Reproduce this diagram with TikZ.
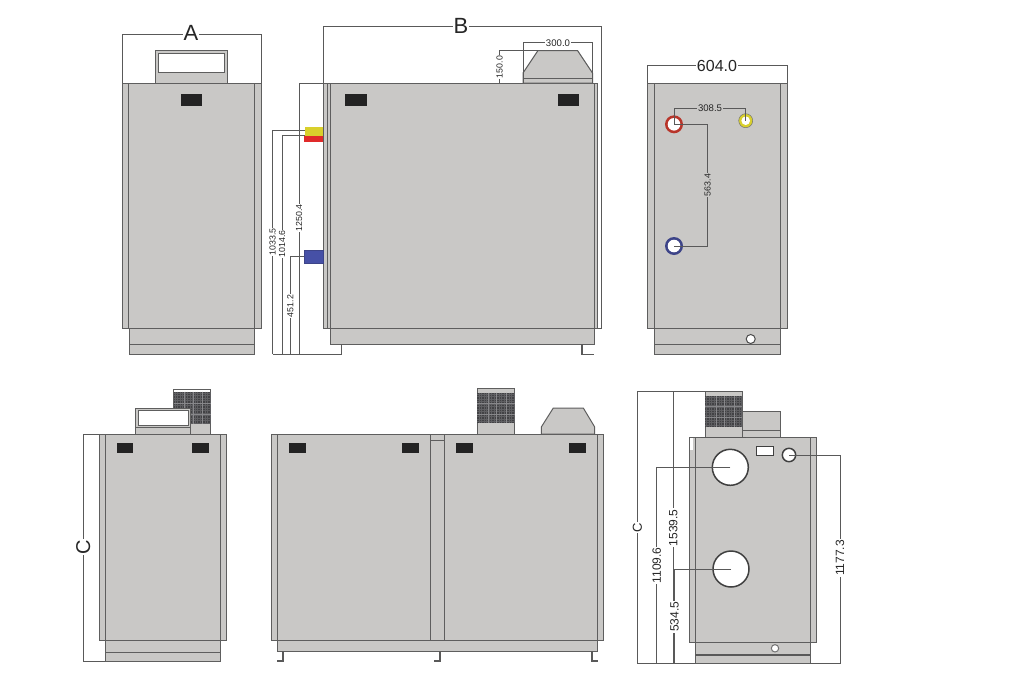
\documentclass[tikz,border=0pt]{standalone}
\usepackage{fontspec}
\setmainfont{Liberation Sans}
\definecolor{bodygray}{HTML}{C9C8C6}
\definecolor{edgegray}{HTML}{5E5E5E}
\definecolor{blk}{HTML}{232323}
\definecolor{grill}{HTML}{424245}
\definecolor{grillb}{HTML}{5F5F62}
\definecolor{grillc}{HTML}{87878A}
\definecolor{yel}{HTML}{D9D02C}
\definecolor{redc}{HTML}{E02A2A}
\definecolor{bluec}{HTML}{4650A6}
\definecolor{redr}{HTML}{B8352A}
\definecolor{bluer}{HTML}{3D4488}
\tikzset{
  part/.style={draw=edgegray,fill=bodygray,line width=1pt},
  ln/.style={draw=edgegray,line width=1pt},
  dim/.style={draw=black!65,line width=1pt,line join=miter},
  dkln/.style={draw=black!65,line width=1.5pt},
  hole/.style={draw=black!75,fill=white,line width=1.5pt},
  port/.style={fill=blk,draw=none},
  lab/.style={font=\fontsize{#1}{#1}\selectfont,inner sep=1pt,text=black!85},
  lbw/.style={lab=#1,fill=white},
  lbg/.style={lab=#1,fill=bodygray}
}
\newcommand{\grillbox}[4]{%
  \fill[grill] (#1,#3) rectangle (#2,#4);
  \pgfmathsetmacro{\xa}{#1+1.5}\pgfmathsetmacro{\xb}{#1+4}
  \foreach \xx in {\xa,\xb,...,#2}{\draw[grillb,line width=0.5pt] (\xx,#3) -- (\xx,#4);}
  \pgfmathsetmacro{\ya}{#3+1.5}\pgfmathsetmacro{\yb}{#3+4}
  \foreach \yy in {\ya,\yb,...,#4}{\draw[grillb,line width=0.5pt] (#1,\yy) -- (#2,\yy);}
  \foreach \ff in {0.3,0.52,0.78}{%
    \pgfmathsetmacro{\xc}{#1+\ff*(#2-#1)}
    \draw[grillc,line width=0.7pt] (\xc,#3) -- (\xc,#4);}
  \foreach \ff in {0.35,0.7}{%
    \pgfmathsetmacro{\yc}{#3+\ff*(#4-#3)}
    \draw[grillc,line width=0.7pt] (#1,\yc) -- (#2,\yc);}
}
\begin{document}
\begin{tikzpicture}[x=1pt,y=-1pt]
\useasboundingbox (0,0) rectangle (1024,691);
\fill[white] (0,0) rectangle (1024,691);

% ===== top-left view =====
\draw[dim] (122,83) -- (122,34) -- (261,34) -- (261,83);
\node[lbw=22] (labA) at (191,33) {A};
\draw[part] (155.5,50.5) rectangle (227.5,83);
\draw[ln,fill=white] (158.5,53.5) rectangle (224.5,72);
\draw[part] (129,328) rectangle (254,354);
\draw[ln] (129,344) -- (254,344);
\draw[part] (122,83) rectangle (261,328);
\draw[ln] (128.5,83) -- (128.5,328) (254,83) -- (254,328);
\fill[port] (180.5,94) rectangle (202,106);

% ===== top-middle view =====
\draw[dim] (323,83) -- (323,26) -- (601.5,26) -- (601.5,83);
\node[lbw=22] (labB) at (461,26) {B};
\draw[dim] (601.5,83) -- (601.5,328) -- (596,328);
\draw[part] (330,328) rectangle (594.5,344);
\draw[part] (323,83) rectangle (597,328);
\draw[ln] (327.5,83) -- (327.5,328) (330.5,83) -- (330.5,328) (594,83) -- (594,328);
\fill[port] (345,94) rectangle (366.5,106);
\fill[port] (557.5,94) rectangle (579,106);
\draw[part] (523,83) -- (523,73) -- (538,50.5) -- (577.5,50.5) -- (592.5,73) -- (592.5,83) -- cycle;
\draw[ln] (523,78.5) -- (592.5,78.5);
\draw[dim] (523,83) -- (523,42.5) -- (592.5,42.5) -- (592.5,83);
\node[lbw=9.6] (lab300) at (558,43) {300.0};
\draw[dim] (499.5,83) -- (499.5,50.5) -- (538,50.5);
\node[lbw=8.8,rotate=90] (lab150) at (499.5,67) {150.0};
% connections
\fill[yel] (305,126.5) rectangle (323,135.5);
\fill[redc] (304,135.5) rectangle (323,142);
\fill[bluec,draw=bluer,line width=0.4pt] (304,250) rectangle (323,263.5);
\draw[dim] (323,83) -- (299,83) -- (299,354);
\draw[dim] (305,130.5) -- (272.7,130.5) -- (272.7,354);
\draw[dim] (305,135) -- (282,135) -- (282,354);
\draw[dim] (304,256.7) -- (290.3,256.7) -- (290.3,354);
\draw[dim] (272.7,354) -- (341.7,354) -- (341.7,344);
\node[lbw=8.8,rotate=90] (lab1033) at (272.7,242) {1033.5};
\node[lbw=8.8,rotate=90] (lab1014) at (282,244) {1014.6};
\node[lbw=8.8,rotate=90] (lab1250) at (299,218) {1250.4};
\node[lbw=8.8,rotate=90] (lab451) at (290.3,306) {451.2};
% foot
\draw[dkln] (582,344) -- (582,354.5) -- (594,354.5);

% ===== top-right view =====
\draw[dim] (647.7,83) -- (647.7,65.7) -- (787.3,65.7) -- (787.3,83);
\node[lbw=16] (lab604) at (717,65.5) {604.0};
\draw[part] (654.7,328) rectangle (780.7,354);
\draw[ln] (654.7,344) -- (780.7,344);
\draw[part] (647.7,83) rectangle (787.3,328);
\draw[ln] (654.7,83) -- (654.7,328) (780.7,83) -- (780.7,328);
\draw[hole,draw=black!70,line width=1pt] (750.7,339) circle (4.5);
\filldraw[fill=redr,draw=none] (674,124.3) circle (9);
\fill[white] (674,124.3) circle (6.3);
\filldraw[fill=bluer,draw=none] (674,246) circle (9);
\fill[white] (674,246) circle (6.3);
\filldraw[fill=yel,draw=black!55,line width=0.5pt] (745.7,120.7) circle (7);
\fill[white] (745.7,120.7) circle (4.3);
\draw[dim] (674,124.3) -- (674,108.3) -- (745.7,108.3) -- (745.7,120.7);
\node[lbg=9.6] (lab308) at (710,108.3) {308.5};
\draw[dim] (674,124.3) -- (707.7,124.3) -- (707.7,246) -- (674,246);
\node[lbg=8.8,rotate=90] (lab563) at (707.7,185) {563.4};

% ===== bottom-left view =====
\draw[part] (173.7,389) rectangle (210.7,434);
\fill[white] (174.2,389.5) rectangle (210.2,391.7);
\grillbox{173.7}{210.7}{391.7}{424.3}
\draw[part] (135.3,408.3) rectangle (190.3,434);
\draw[ln,fill=white] (138.3,410.7) rectangle (188.3,425.7);
\draw[ln] (135.3,427.7) -- (190.3,427.7);
\draw[part] (105,640.5) rectangle (220.7,661);
\draw[ln] (105,652) -- (220.7,652);
\draw[part] (99.3,434.3) rectangle (226,640.5);
\draw[ln] (105.3,434.3) -- (105.3,640.5) (220,434.3) -- (220,640.5);
\fill[port] (116.7,443.3) rectangle (133.3,453);
\fill[port] (192.3,443.3) rectangle (209,453);
\draw[dim] (99.3,434.3) -- (83.3,434.3) -- (83.3,661) -- (105,661);
\node[lbw=20,rotate=90] (labC1) at (83.3,547) {C};

% ===== bottom-middle view =====
\draw[part] (477.3,388.5) rectangle (514.7,434);
\grillbox{477.3}{514.7}{392.7}{423.3}
\draw[part] (541.3,434) -- (541.3,427) -- (553.3,408) -- (583.3,408) -- (594.7,427) -- (594.7,434) -- cycle;
\draw[part] (277,640.5) rectangle (597.5,651);
\draw[part] (271.8,434.3) rectangle (603,640.5);
\draw[ln] (277,434.3) -- (277,640.5) (430,434.3) -- (430,640.5) (444.4,434.3) -- (444.4,640.5) (597.3,434.3) -- (597.3,640.5);
\draw[ln] (430,440.7) -- (444.4,440.7);
\foreach \xa in {288.7,402,455.7,568.7}{\fill[port] (\xa,443.3) rectangle ++(17.3,9.7);}
\draw[dkln] (283,651) -- (283,661) -- (277,661);
\draw[dkln] (440,651) -- (440,661) -- (434,661);
\draw[dkln] (592,651) -- (592,661) -- (598,661);

% ===== bottom-right view =====
\draw[part] (742,411) rectangle (780.3,437.3);
\draw[ln] (742,430) -- (780.3,430);
\draw[part] (705,391.7) rectangle (742,437.3);
\grillbox{705}{742}{396}{426.7}
\draw[part] (695,642.3) rectangle (810.3,663.5);
\draw[dkln] (695,655) -- (810.3,655);
\draw[part] (689.3,437.3) rectangle (816,642.3);
\draw[ln] (695,437.3) -- (695,642.3) (810.3,437.3) -- (810.3,642.3);
\fill[white] (690.3,438) rectangle (692.5,450);
\draw[dkln] (701,437.3) -- (745.7,437.3);
\draw[hole] (730.3,467.3) circle (18);
\draw[hole] (731,569) circle (18);
\draw[hole] (789,455) circle (6.7);
\draw[hole] (756.7,446.3) rectangle (773.3,455.3);
\draw[hole,draw=black!55,line width=1pt] (775,648.3) circle (3.7);
\draw[dim] (742,391.7) -- (637.3,391.7) -- (637.3,663.5) -- (695,663.5);
\draw[dim] (673.3,391.7) -- (673.3,663.5);
\draw[dim] (730.3,467.3) -- (656.7,467.3) -- (656.7,663.5);
\draw[dim] (731,569) -- (674.7,569) -- (674.7,663.5);
\draw[dim] (789,455) -- (840,455) -- (840,663.5) -- (810.3,663.5);
\node[lbw=13,rotate=90] (labC2) at (637.3,527.7) {C};
\node[lbw=12,rotate=90] (lab1539) at (673.3,527.7) {1539.5};
\node[lbw=12,rotate=90] (lab1109) at (656.7,565.5) {1109.6};
\node[lbw=12,rotate=90] (lab534) at (674.5,616.7) {534.5};
\node[lbw=12,rotate=90] (lab1177) at (840,558) {1177.3};
\end{tikzpicture}
\end{document}
